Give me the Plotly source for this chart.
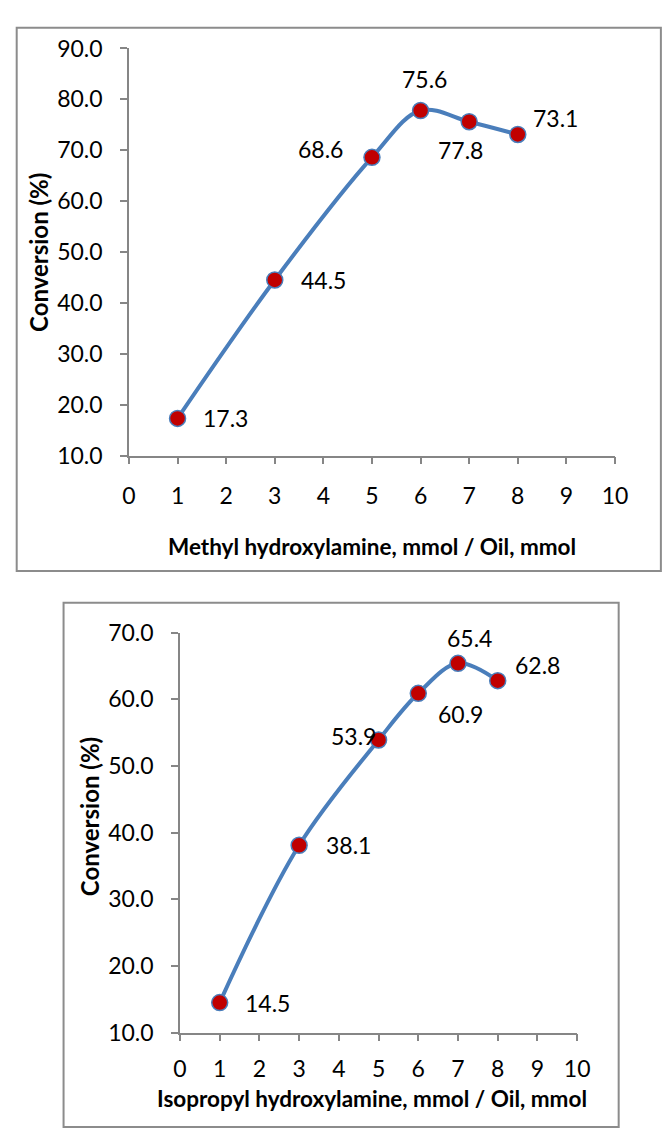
import plotly.graph_objects as go

# ---------------- data ----------------
x_methyl = [1, 3, 5, 6, 7, 8]
y_methyl = [17.3, 44.5, 68.6, 77.8, 75.6, 73.1]
labels_methyl = ["17.3", "44.5", "68.6", "75.6", "77.8", "73.1"]

x_iso = [1, 3, 5, 6, 7, 8]
y_iso = [14.5, 38.1, 53.9, 60.9, 65.4, 62.8]
labels_iso = ["14.5", "38.1", "53.9", "60.9", "65.4", "62.8"]

y_ticks_methyl = [10, 20, 30, 40, 50, 60, 70, 80, 90]
y_ticks_iso = [10, 20, 30, 40, 50, 60, 70]
x_ticks = [0, 1, 2, 3, 4, 5, 6, 7, 8, 9, 10]

xtitle_methyl = "Methyl hydroxylamine, mmol / Oil, mmol"
xtitle_iso = "Isopropyl hydroxylamine, mmol / Oil, mmol"
ytitle = "Conversion (%)"

# ---------------- layout helpers ----------------
W, H = 670, 1135
def px(x):
    return x / W
def py(y):
    return 1 - y / H

FONT = "Lato"
LINE_C = "#4A7EBB"
MARK_C = "#C00000"
AXIS_C = "#868686"
FRAME_C = "#8C8C8C"
TICK_SIZE = 23

# label pixel offsets (dx right, dy up) for each point
off_methyl = [(48, 0), (49, 0), (-51, 8), (4, 32), (-9, -28), (38, 16)]
off_iso = [(48, 0), (49, 0), (-25, 4), (42, -21), (11, 25), (40, 16)]

fig = go.Figure()

fig.add_trace(go.Scatter(
    x=x_methyl, y=y_methyl, mode="lines+markers",
    line=dict(color=LINE_C, width=4, shape="spline", smoothing=1.0),
    marker=dict(size=16, color=MARK_C, line=dict(color=LINE_C, width=1.5)),
    xaxis="x", yaxis="y", showlegend=False, hoverinfo="x+y"))

fig.add_trace(go.Scatter(
    x=x_iso, y=y_iso, mode="lines+markers",
    line=dict(color=LINE_C, width=4, shape="spline", smoothing=1.0),
    marker=dict(size=16, color=MARK_C, line=dict(color=LINE_C, width=1.5)),
    xaxis="x2", yaxis="y2", showlegend=False, hoverinfo="x+y"))

common_axis = dict(
    showgrid=False, zeroline=False, showline=True, linecolor=AXIS_C, linewidth=1.5,
    ticks="outside", ticklen=7, tickwidth=1.5, tickcolor=AXIS_C,
    tickfont=dict(family=FONT, size=TICK_SIZE, color="black"),
)

# top chart: plot area px x 125.7..626.7, y 34.3..451.7
# bottom chart: plot area px x 178.3..587.7, y 633.3..1043.3
fig.update_layout(
    width=W, height=H, margin=dict(l=0, r=0, t=0, b=0),
    paper_bgcolor="white", plot_bgcolor="white",
    xaxis=dict(domain=[px(125.7), px(626.7)], range=[0, 10], anchor="y",
               tickvals=x_ticks, ticktext=[str(v) for v in x_ticks],
               ticklabelstandoff=12, **common_axis),
    yaxis=dict(domain=[py(451.7), py(34.3)], range=[10, 90], anchor="x",
               tickvals=y_ticks_methyl, ticktext=[f"{v:.1f}" for v in y_ticks_methyl],
               ticklabelstandoff=13, **common_axis),
    xaxis2=dict(domain=[px(178.3), px(587.7)], range=[0, 10], anchor="y2",
                tickvals=x_ticks, ticktext=[str(v) for v in x_ticks],
                ticklabelstandoff=8, **common_axis),
    yaxis2=dict(domain=[py(1043.3), py(633.3)], range=[10, 70], anchor="x2",
                tickvals=y_ticks_iso, ticktext=[f"{v:.1f}" for v in y_ticks_iso],
                ticklabelstandoff=13, **common_axis),
)

annotations = []
for xv, yv, t, (dx, dy) in zip(x_methyl, y_methyl, labels_methyl, off_methyl):
    annotations.append(dict(x=xv, y=yv, xref="x", yref="y", text=t, showarrow=False,
                            xshift=dx, yshift=dy,
                            font=dict(family=FONT, size=TICK_SIZE, color="black")))
for xv, yv, t, (dx, dy) in zip(x_iso, y_iso, labels_iso, off_iso):
    annotations.append(dict(x=xv, y=yv, xref="x2", yref="y2", text=t, showarrow=False,
                            xshift=dx, yshift=dy,
                            font=dict(family=FONT, size=TICK_SIZE, color="black")))

title_font = dict(family=FONT, size=22.5, color="black")
annotations += [
    dict(x=px(376), y=py(545), xref="paper", yref="paper", text=f"<b>{xtitle_methyl}</b>",
         showarrow=False, font=title_font, xanchor="center", yanchor="middle"),
    dict(x=px(376), y=py(1111), xref="paper", yref="paper", text=f"<b>{xtitle_iso}</b>",
         showarrow=False, font=title_font, xanchor="center", yanchor="middle"),
    dict(x=px(33), y=py(244), xref="paper", yref="paper", text=f"<b>{ytitle}</b>",
         showarrow=False, font=dict(family=FONT, size=24, color="black"),
         textangle=-90, xanchor="center", yanchor="middle"),
    dict(x=px(85), y=py(822), xref="paper", yref="paper", text=f"<b>{ytitle}</b>",
         showarrow=False, font=dict(family=FONT, size=24, color="black"),
         textangle=-90, xanchor="center", yanchor="middle"),
]
fig.update_layout(annotations=annotations)

fig.update_layout(shapes=[
    dict(type="rect", xref="paper", yref="paper",
         x0=px(10), x1=px(674), y0=py(570), y1=py(13),
         line=dict(color=FRAME_C, width=2), fillcolor="rgba(0,0,0,0)", layer="below"),
    dict(type="rect", xref="paper", yref="paper",
         x0=px(58.3), x1=px(630.5), y0=py(1140), y1=py(602.7),
         line=dict(color=FRAME_C, width=2), fillcolor="rgba(0,0,0,0)", layer="below"),
])

fig.write_html("out.html")
